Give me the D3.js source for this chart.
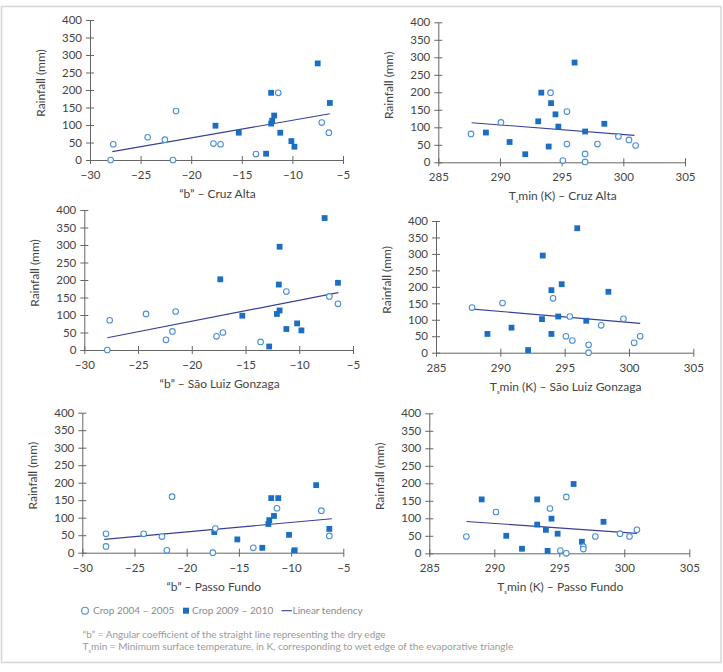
<!DOCTYPE html>
<html>
<head>
<meta charset="utf-8">
<script src="https://cdn.jsdelivr.net/npm/d3@7"></script>
<style>
  body { margin: 0; background: #fff; }
  svg { font-family: Lato, "Open Sans", sans-serif; }
</style>
</head>
<body>
<svg id="chart" width="723" height="672"></svg>
<script>
// tick values
const yTicks = [0, 50, 100, 150, 200, 250, 300, 350, 400];
const bTicks = [-30, -25, -20, -15, -10, -5];
const tTicks = [285, 290, 295, 300, 305];

// "b" – Cruz Alta  [b, rainfall]
const cruzAltaB0405 = [[-27.7,45],[-27.96,0],[-24.3,65],[-22.6,58],[-21.5,140],[-21.8,0],[-17.8,47],[-17.1,45],[-13.6,17],[-11.4,192],[-7.1,107],[-6.4,78]];
const cruzAltaB0910 = [[-17.6,98],[-15.3,78],[-12.6,18],[-12.1,192],[-12.1,104],[-12.0,112],[-11.8,127],[-11.2,78],[-10.1,54],[-9.8,38],[-7.5,276],[-6.3,163]];
const cruzAltaBTrend = [[-27.8,24],[-6.3,132]];

// Tsmin – Cruz Alta
const cruzAltaT0405 = [[287.65,81],[290.08,114],[294.1,199],[295.43,145],[295.43,52],[295.1,5],[296.9,24],[296.9,1],[297.9,52],[299.6,74],[300.46,64],[301.0,48]];
const cruzAltaT0910 = [[288.86,85],[290.78,58],[292.05,23],[293.1,117],[293.35,199],[293.95,45],[294.14,169],[294.5,137],[294.73,102],[296.05,285],[296.9,88],[298.46,110]];
const cruzAltaTTrend = [[287.7,113],[300.9,77]];

// "b" – São Luiz Gonzaga
const saoLuizB0405 = [[-27.64,85],[-27.86,0],[-24.26,103],[-22.4,29],[-21.8,53],[-21.5,110],[-17.7,39],[-17.1,50],[-13.6,23],[-11.2,167],[-7.2,153],[-6.4,132]];
const saoLuizB0910 = [[-17.35,202],[-15.3,98],[-12.8,10],[-12.08,103],[-11.9,187],[-11.83,295],[-11.83,113],[-11.2,60],[-10.2,76],[-9.8,56],[-7.64,377],[-6.4,192]];
const saoLuizBTrend = [[-27.86,35],[-6.37,164]];

// Tsmin – São Luiz Gonzaga
const saoLuizT0405 = [[287.8,137],[290.17,151],[294.1,165],[295.4,110],[295.1,50],[295.6,37],[296.86,24],[296.86,0],[297.84,83],[299.57,103],[300.4,30],[300.87,50]];
const saoLuizT0910 = [[289.0,57],[290.87,76],[292.16,8],[293.24,102],[293.3,295],[293.97,190],[293.97,57],[294.5,110],[294.77,208],[295.98,378],[296.68,97],[298.4,185]];
const saoLuizTTrend = [[287.64,133],[300.87,89]];

// "b" – Passo Fundo
const passoFundoB0405 = [[-27.73,54],[-27.73,18],[-24.12,54],[-22.37,46],[-21.9,7],[-21.4,160],[-17.5,0],[-17.26,69],[-13.62,14],[-11.35,127],[-7.1,120],[-6.34,48]];
const passoFundoB0910 = [[-17.36,59],[-15.15,38],[-12.76,14],[-12.18,82],[-12.09,93],[-11.9,156],[-11.64,105],[-11.23,156],[-10.2,51],[-9.66,7],[-7.6,193],[-6.34,68]];
const passoFundoBTrend = [[-27.9,38],[-6.1,97]];

// Tsmin – Passo Fundo
const passoFundoT0405 = [[287.85,48],[290.13,118],[294.28,128],[295.08,8],[295.54,0],[295.54,161],[296.85,19],[296.85,12],[297.77,48],[299.67,56],[300.4,48],[300.97,67]];
const passoFundoT0910 = [[289.03,154],[290.92,50],[292.13,13],[293.3,82],[293.3,154],[293.97,67],[294.1,7],[294.4,99],[294.87,56],[296.1,198],[296.74,33],[298.4,90]];
const passoFundoTTrend = [[287.85,91],[300.97,57]];

const legendLabels = ["Crop 2004 – 2005", "Crop 2009 – 2010", "Linear tendency"];

const cOpen = "#4a8fd6";
const cFill = "#1c6ec2";
const cLine = "#3a3f95";
const cAxis = "#666";
const cText = "#444";

const svg = d3.select("#chart");

// outer frame
svg.append("rect")
  .attr("x", 1.5).attr("y", 6.5)
  .attr("width", 719.5).attr("height", 656)
  .attr("fill", "none")
  .attr("stroke", "#d6d6d6")
  .attr("stroke-width", 1.5);

const panels = [
  { o: cruzAltaB0405, f: cruzAltaB0910, t: cruzAltaBTrend, dom: [-30, -5], ticks: bTicks, px: [90, 343], py: [160, 20], name: "“b” – Cruz Alta", sub: false },
  { o: cruzAltaT0405, f: cruzAltaT0910, t: cruzAltaTTrend, dom: [285, 305], ticks: tTicks, px: [438.3, 685], py: [162.3, 22.3], name: "min (K) – Cruz Alta", sub: true },
  { o: saoLuizB0405, f: saoLuizB0910, t: saoLuizBTrend, dom: [-30, -5], ticks: bTicks, px: [84.3, 353], py: [350, 210], name: "“b” – São Luiz Gonzaga", sub: false },
  { o: saoLuizT0405, f: saoLuizT0910, t: saoLuizTTrend, dom: [285, 305], ticks: tTicks, px: [436, 693.3], py: [352.7, 221], name: "min (K) – São Luiz Gonzaga", sub: true },
  { o: passoFundoB0405, f: passoFundoB0910, t: passoFundoBTrend, dom: [-30, -5], ticks: bTicks, px: [82.3, 343.3], py: [552.7, 412.7], name: "“b” – Passo Fundo", sub: false },
  { o: passoFundoT0405, f: passoFundoT0910, t: passoFundoTTrend, dom: [285, 305], ticks: tTicks, px: [429.3, 689.3], py: [553.3, 413.3], name: "min (K) – Passo Fundo", sub: true }
];

panels.forEach(p => {
  const x = d3.scaleLinear().domain(p.dom).range(p.px);
  const y = d3.scaleLinear().domain([0, 400]).range(p.py);
  const g = svg.append("g");

  // x axis
  const gx = g.append("g")
    .attr("transform", "translate(0," + p.py[0] + ")")
    .call(d3.axisBottom(x).tickValues(p.ticks).tickSize(4).tickSizeOuter(0).tickPadding(7));
  gx.selectAll(".tick line").attr("y1", -4);

  // y axis
  const gy = g.append("g")
    .attr("transform", "translate(" + p.px[0] + ",0)")
    .call(d3.axisLeft(y).tickValues(yTicks).tickSize(4).tickSizeOuter(0).tickPadding(4));
  gy.selectAll(".tick line").attr("x1", 4);

  [gx, gy].forEach(a => {
    a.select(".domain").attr("stroke", cAxis);
    a.selectAll(".tick line").attr("stroke", cAxis);
    a.selectAll("text").attr("fill", cText).style("font-size", "11.5px").style("font-family", "Lato, 'Open Sans', sans-serif");
  });

  // axis titles
  const tx = g.append("text")
    .attr("x", (p.px[0] + p.px[1]) / 2 + 1)
    .attr("y", p.py[0] + 38)
    .attr("text-anchor", "middle")
    .attr("fill", cText)
    .style("font-size", "12px");
  if (p.sub) {
    tx.append("tspan").text("T");
    tx.append("tspan").attr("dy", 3).style("font-size", "6px").text("s");
    tx.append("tspan").attr("dy", -3).text(p.name);
  } else {
    tx.text(p.name);
  }

  g.append("text")
    .attr("transform", "translate(" + (p.px[0] - 45.5) + "," + ((p.py[0] + p.py[1]) / 2 - 7) + ") rotate(-90)")
    .attr("text-anchor", "middle")
    .attr("fill", cText)
    .style("font-size", "12px")
    .text("Rainfall (mm)");

  // trend
  g.append("line")
    .attr("x1", x(p.t[0][0])).attr("y1", y(p.t[0][1]))
    .attr("x2", x(p.t[1][0])).attr("y2", y(p.t[1][1]))
    .attr("stroke", cLine).attr("stroke-width", 1.1);

  // crop 2009-2010 squares
  g.selectAll("rect.f").data(p.f).enter().append("rect")
    .attr("class", "f")
    .attr("x", d => x(d[0]) - 2.9).attr("y", d => y(d[1]) - 2.9)
    .attr("width", 5.8).attr("height", 5.8)
    .attr("fill", cFill);

  // crop 2004-2005 circles
  g.selectAll("circle.o").data(p.o).enter().append("circle")
    .attr("class", "o")
    .attr("cx", d => x(d[0])).attr("cy", d => y(d[1]))
    .attr("r", 2.8)
    .attr("fill", "#fff")
    .attr("stroke", cOpen)
    .attr("stroke-width", 1.1);
});

// legend
const lg = svg.append("g").style("font-size", "10px").attr("fill", "#8a8a8a");
lg.append("circle").attr("cx", 85).attr("cy", 610.7).attr("r", 3.4)
  .attr("fill", "#fff").attr("stroke", cOpen).attr("stroke-width", 1.1);
lg.append("text").attr("x", 93).attr("y", 614).text(legendLabels[0]);
lg.append("rect").attr("x", 183).attr("y", 607.7).attr("width", 6).attr("height", 6).attr("fill", cFill);
lg.append("text").attr("x", 192).attr("y", 614).text(legendLabels[1]);
lg.append("line").attr("x1", 281.5).attr("x2", 292).attr("y1", 610.7).attr("y2", 610.7)
  .attr("stroke", cLine).attr("stroke-width", 1.1);
lg.append("text").attr("x", 292.5).attr("y", 614).text(legendLabels[2]);

// footnotes
const fn = svg.append("g").style("font-size", "10px").attr("fill", "#9a9a9a");
fn.append("text").attr("x", 82.5).attr("y", 637.5)
  .text("“b” = Angular coefficient of the straight line representing the dry edge");
const f2 = fn.append("text").attr("x", 82.5).attr("y", 650);
f2.append("tspan").text("T");
f2.append("tspan").attr("dy", 2.5).style("font-size", "6px").text("s");
f2.append("tspan").attr("dy", -2.5).text("min = Minimum surface temperature, in K, corresponding to wet edge of the evaporative triangle");
</script>
</body>
</html>
